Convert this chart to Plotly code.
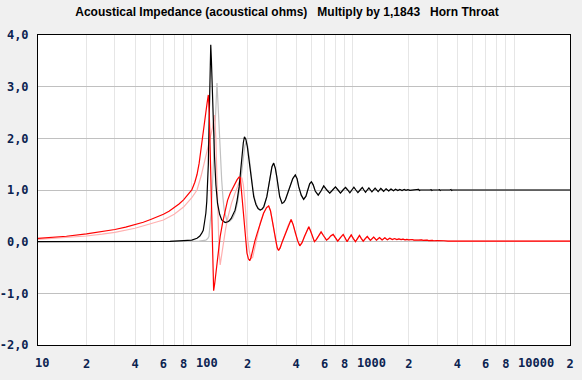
import numpy as np
import plotly.graph_objects as go

# ---------------- data ----------------
freq_black = [10, 40, 66, 80, 90, 97, 101, 104, 106, 108, 110, 111.5, 113, 114, 115, 116, 117, 118,
              119, 120, 121, 122.5, 124.5, 127, 130, 134, 138, 145, 152, 158, 163, 167, 172, 177,
              181, 184, 188, 191, 195, 199, 204, 208, 213, 218, 225, 232, 239, 246, 252, 258, 263,
              270, 276, 283, 290, 297, 303, 310, 316, 327, 335, 343, 355, 366, 381, 395, 405, 415,
              430, 445, 460, 472, 485, 497, 510, 525, 548, 570, 593, 620, 646, 673, 701, 727, 753,
              781, 809, 835, 861, 886, 912, 939, 966, 997, 1029, 1053, 1077, 1103, 1130, 1180,
              1235, 1290, 1340, 1395, 1445, 1500, 1550, 1605, 1655, 1710, 1760, 1815, 1870, 1920,
              1975, 2030, 2100, 2250, 2300, 2330, 2360, 2700, 2750, 2780, 2810, 3050, 3100, 3130,
              3160, 3600, 3650, 3690, 3730, 20000]
res_black = [0.0, 0.0, 0.005, 0.02, 0.03, 0.065, 0.11, 0.17, 0.22, 0.38, 0.55, 0.78, 1.1, 1.5, 2.16,
             2.8, 3.4, 3.81, 3.55, 3.15, 2.81, 2.2, 1.65, 1.1, 0.74, 0.53, 0.42, 0.37, 0.39, 0.45,
             0.53, 0.61, 0.8, 1.06, 1.38, 1.65, 1.92, 2.03, 1.98, 1.84, 1.58, 1.3, 1.02, 0.87,
             0.72, 0.64, 0.61, 0.63, 0.68, 0.78, 0.87, 1.08, 1.26, 1.45, 1.52, 1.42, 1.26, 1.05,
             0.87, 0.74, 0.76, 0.81, 0.95, 1.06, 1.22, 1.29, 1.22, 1.06, 0.9, 0.82, 0.88, 1.0,
             1.12, 1.16, 1.1, 0.98, 0.9, 0.98, 1.08, 1.0, 0.94, 1.0, 1.06, 1.0, 0.94, 1.0, 1.05,
             1.0, 0.945, 1.0, 1.055, 1.0, 0.95, 1.0, 1.05, 1.0, 0.955, 1.0, 1.04, 0.965, 1.035,
             0.97, 1.03, 0.975, 1.025, 0.98, 1.02, 0.985, 1.015, 0.988, 1.012, 0.99, 1.01, 0.992,
             1.008, 0.994, 1.0, 1.0, 1.01, 0.99, 1.0, 1.0, 1.008, 0.992, 1.0, 1.0, 1.008, 0.992,
             1.0, 1.0, 1.01, 0.99, 1.0, 1.0]

freq_gray_head = [10, 80, 100, 110, 113, 115, 117, 118.5, 120, 122, 124.6, 127, 129, 131, 133,
                  135.5, 138, 140.5, 143, 148.5, 155, 161, 167, 173, 178, 183, 188, 192, 196, 200,
                  205, 210, 216, 222, 230, 240, 252]
res_gray_head = [0.0, 0.0, 0.01, 0.03, 0.06, 0.10, 0.3, 0.55, 0.87, 1.35, 1.97, 2.6, 3.07, 2.65,
                 2.16, 1.6, 1.19, 0.85, 0.61, 0.41, 0.40, 0.45, 0.56, 0.75, 1.0, 1.3, 1.62, 1.85,
                 1.94, 1.85, 1.6, 1.3, 1.0, 0.8, 0.67, 0.61, 0.66]

freq_red = [10, 12, 15, 20, 25, 30, 35, 40, 45, 50, 55, 60, 65, 70, 75, 80, 85, 90, 94, 97, 100,
            102, 104, 106, 108, 110, 112, 114, 115.5, 117, 118.5, 120, 121.5, 123, 125, 127, 129,
            132, 135, 140, 145, 150, 156, 162, 167, 172, 177, 180, 184, 189, 193, 198, 202, 206,
            210, 215, 222, 229, 240, 251, 262, 270, 277, 284, 290, 298, 305, 311, 318, 328, 343,
            357, 372, 383, 395, 408, 421, 435, 450, 465, 479, 492, 505, 519, 533, 550, 571, 590,
            605, 617, 635, 655, 678, 700, 724, 753, 783, 805, 828, 853, 878, 905, 933, 960, 988,
            1015, 1042, 1073, 1104, 1155, 1210, 1260, 1315, 1365, 1420, 1470, 1525, 1580, 1630,
            1685, 1735, 1790, 1840, 1895, 1945, 2000, 2100, 2150, 2250, 2300, 2400, 2450, 2600,
            2650, 2800, 2850, 3000, 3100, 3300, 3500, 6000, 6300, 6600, 9000, 9500, 10500, 12000,
            13000, 14000, 15500, 17000, 18500, 20000]
reac_red = [0.065, 0.08, 0.105, 0.15, 0.19, 0.235, 0.28, 0.33, 0.375, 0.43, 0.48, 0.53, 0.59, 0.66,
            0.73, 0.81, 0.9, 1.0, 1.15, 1.3, 1.52, 1.75, 1.95, 2.15, 2.35, 2.5, 2.68, 2.84, 2.5,
            1.8, 1.0, 0.2, -0.5, -0.95, -0.8, -0.6, -0.42, -0.15, 0.1, 0.38, 0.61, 0.8, 0.94,
            1.05, 1.13, 1.2, 1.25, 1.24, 0.9, 0.42, 0.08, -0.22, -0.33, -0.37, -0.3, -0.15, 0.02,
            0.16, 0.38, 0.55, 0.66, 0.69, 0.6, 0.42, 0.23, 0.02, -0.12, -0.17, -0.12, 0.0, 0.16,
            0.32, 0.43, 0.33, 0.16, 0.02, -0.08, -0.02, 0.10, 0.22, 0.29, 0.2, 0.08, 0.0, 0.04,
            0.12, 0.19, 0.12, 0.06, 0.03, 0.06, 0.11, 0.14, 0.08, 0.01, 0.08, 0.14, 0.07, 0.0,
            0.07, 0.13, 0.06, 0.0, 0.06, 0.12, 0.06, 0.01, 0.06, 0.10, 0.025, 0.09, 0.03, 0.08,
            0.035, 0.075, 0.035, 0.065, 0.04, 0.06, 0.04, 0.055, 0.04, 0.05, 0.035, 0.045, 0.035,
            0.042, 0.03, 0.038, 0.028, 0.033, 0.025, 0.03, 0.022, 0.025, 0.018, 0.022, 0.016,
            0.018, 0.012, 0.012, 0.008, 0.012, 0.01, 0.006, 0.01, 0.008, 0.012, 0.008, 0.011,
            0.007, 0.011, 0.009]

freq_pink_head = [10, 15, 20, 25, 30, 40, 50, 60, 70, 80, 90, 97, 103, 108, 113, 117, 121, 124.6,
                  127, 129, 131, 133, 135, 138, 141, 146, 151, 159, 167, 173, 179, 184, 188, 192,
                  196, 200, 205, 210, 215, 222, 230]
reac_pink_head = [0.045, 0.075, 0.11, 0.145, 0.18, 0.26, 0.34, 0.42, 0.53, 0.67, 0.85, 1.0, 1.28,
                  1.55, 1.82, 1.97, 2.2, 2.45, 2.0, 1.2, 0.2, -0.2, -0.45, -0.25, -0.03, 0.25,
                  0.48, 0.75, 0.94, 1.08, 1.19, 1.24, 1.1, 0.8, 0.4, 0.05, -0.2, -0.33, -0.3,
                  -0.1, 0.12]

# x tick labels: single digits sit centred on their ticks, decade labels start at the tick
x_tick_vals = [20, 40, 60, 80, 200, 400, 600, 800, 2000, 4000, 6000, 8000, 20000]
x_tick_text = ["2", "4", "6", "8", "2", "4", "6", "8", "2", "4", "6", "8", "2"]
x_decade_vals = [10, 100, 1000, 10000]
x_decade_text = ["10", "100", "1000", "10000"]
x_minor_vals = [30, 50, 70, 90, 300, 500, 700, 900, 3000, 5000, 7000, 9000]
x_grid_decades = [100, 1000, 10000]
y_tick_vals = [-2, -1, 0, 1, 2, 3, 4]
y_tick_text = ["-2,0", "-1,0", "0,0", "1,0", "2,0", "3,0", "4,0"]

title_text = ("Acoustical Impedance (acoustical ohms)\u00a0\u00a0\u00a0Multiply by 1,1843"
              "\u00a0\u00a0\u00a0Horn Throat")

# derived series for the light (comparison) curves
freq_gray = freq_gray_head + [f for f in freq_black if f >= 263]
res_gray = res_gray_head + [v for f, v in zip(freq_black, res_black) if f >= 263]
freq_pink = freq_pink_head + [f for f in freq_red if f >= 240]
reac_pink = reac_pink_head + [v for f, v in zip(freq_red, reac_red) if f >= 240]

# ---------------- figure ----------------
LW = 1.2
fig = go.Figure()
fig.add_trace(go.Scatter(x=freq_gray, y=res_gray, mode="lines",
                         line=dict(color="#c0c0c0", width=LW)))
fig.add_trace(go.Scatter(x=freq_pink, y=reac_pink, mode="lines",
                         line=dict(color="#ffb0b0", width=LW)))
fig.add_trace(go.Scatter(x=freq_black, y=res_black, mode="lines",
                         line=dict(color="#000000", width=LW)))
fig.add_trace(go.Scatter(x=freq_red, y=reac_red, mode="lines",
                         line=dict(color="#ff0000", width=LW)))

for d in x_grid_decades:
    fig.add_shape(type="line", xref="x", yref="paper", x0=np.log10(d), x1=np.log10(d),
                  y0=0, y1=1, line=dict(color="#c0c0c0", width=1), layer="between")

tick_font = dict(family="DejaVu Sans Mono", size=12, color="#0b2350", weight="bold")

for v, t in zip(x_decade_vals, x_decade_text):
    fig.add_annotation(x=np.log10(v), xref="x", y=0, yref="paper", text=t, showarrow=False,
                       xanchor="left", yanchor="middle", xshift=-5, yshift=-18,
                       font=tick_font)

fig.update_layout(
    width=582, height=380,
    margin=dict(l=38, r=12, t=35, b=35, autoexpand=False),
    paper_bgcolor="#f0f0f0",
    plot_bgcolor="#ffffff",
    showlegend=False,
    hovermode=False,
    title=dict(text=title_text, x=287 / 582, xref="container", xanchor="center",
               y=1 - 12 / 380, yref="container", yanchor="middle",
               font=dict(family="Liberation Sans", size=12, color="#000000", weight="bold")),
    xaxis=dict(type="log", range=[1 - 1e-6, np.log10(20000) + 1e-6],
               tickmode="array", tickvals=x_tick_vals, ticktext=x_tick_text,
               tickfont=tick_font, ticks="", ticklabelstandoff=8, tickangle=0,
               automargin=False,
               showgrid=True, gridcolor="#e6e6e6", gridwidth=1,
               minor=dict(tickvals=x_minor_vals, showgrid=True, gridcolor="#e6e6e6",
                          gridwidth=1, ticks=""),
               showline=True, linecolor="#000000", linewidth=1, mirror=True,
               zeroline=False, fixedrange=True),
    yaxis=dict(range=[-2, 4], tickmode="array", tickvals=y_tick_vals, ticktext=y_tick_text,
               tickfont=tick_font, ticks="", ticklabelstandoff=6, automargin=False,
               showgrid=True, gridcolor="#c0c0c0", gridwidth=1,
               showline=True, linecolor="#000000", linewidth=1, mirror=True,
               zeroline=False, fixedrange=True),
)

fig.write_html("out.html", config={"displayModeBar": False, "staticPlot": True},
               post_script="document.body.style.margin='0px';"
                           "document.body.style.background='#f0f0f0';")
